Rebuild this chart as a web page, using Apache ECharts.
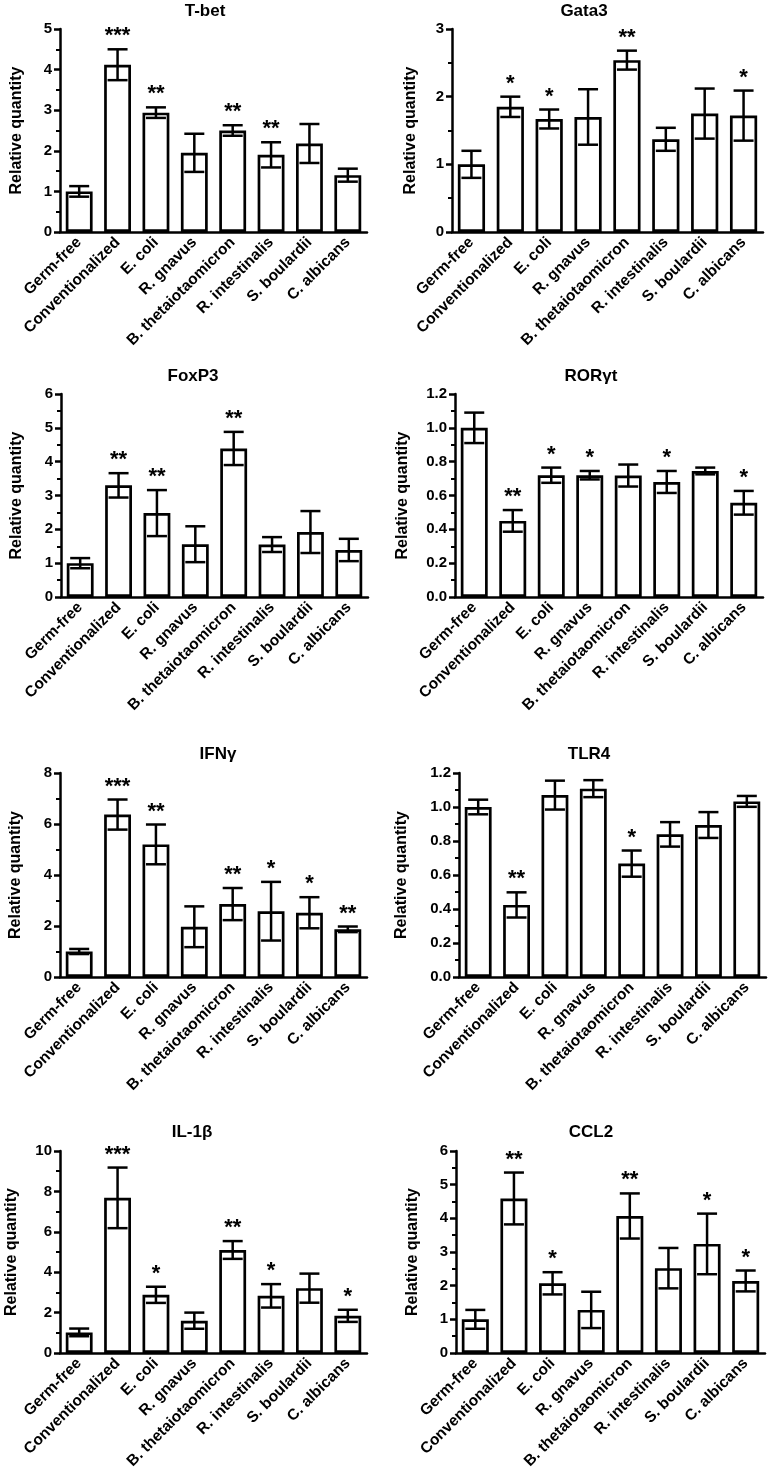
<!DOCTYPE html>
<html><head><meta charset="utf-8">
<script src="https://cdn.jsdelivr.net/npm/echarts@6/dist/echarts.min.js"></script>
<style>html,body{margin:0;padding:0;background:#fff}#c{width:768px;height:1474px}</style>
</head><body><div id="c"></div>
<script>
// ---------- DATA ----------
const categories = ['Germ-free','Conventionalized','E. coli','R. gnavus','B. thetaiotaomicron','R. intestinalis','S. boulardii','C. albicans'];

const tbetMean  = [1.00, 4.12, 2.94, 1.95, 2.50, 1.90, 2.18, 1.40];
const tbetErr   = [0.13, 0.38, 0.13, 0.47, 0.13, 0.31, 0.48, 0.16];
const tbetSig   = ['', '***', '**', '', '**', '**', '', ''];

const gata3Mean = [1.00, 1.85, 1.67, 1.70, 2.54, 1.37, 1.75, 1.72];
const gata3Err  = [0.20, 0.15, 0.14, 0.41, 0.14, 0.17, 0.37, 0.37];
const gata3Sig  = ['', '*', '*', '', '**', '', '', '*'];

const foxp3Mean = [1.00, 3.30, 2.48, 1.56, 4.39, 1.55, 1.92, 1.39];
const foxp3Err  = [0.15, 0.36, 0.68, 0.53, 0.49, 0.22, 0.62, 0.33];
const foxp3Sig  = ['', '**', '**', '', '**', '', '', ''];

const rorMean   = [1.00, 0.45, 0.72, 0.72, 0.718, 0.68, 0.745, 0.557];
const rorErr    = [0.09, 0.064, 0.045, 0.025, 0.065, 0.065, 0.02, 0.07];
const rorSig    = ['', '**', '*', '*', '', '*', '', '*'];

const ifngMean  = [1.00, 6.37, 5.20, 1.97, 2.86, 2.58, 2.52, 1.87];
const ifngErr   = [0.10, 0.59, 0.78, 0.80, 0.63, 1.15, 0.61, 0.11];
const ifngSig   = ['', '***', '**', '', '**', '*', '*', '**'];

const tlr4Mean  = [1.00, 0.424, 1.07, 1.108, 0.667, 0.839, 0.894, 1.033];
const tlr4Err   = [0.043, 0.074, 0.085, 0.05, 0.077, 0.072, 0.076, 0.032];
const tlr4Sig   = ['', '**', '', '', '*', '', '', ''];

const il1bMean  = [1.02, 7.68, 2.88, 1.60, 5.10, 2.83, 3.21, 1.84];
const il1bErr   = [0.19, 1.50, 0.40, 0.40, 0.44, 0.58, 0.72, 0.30];
const il1bSig   = ['', '***', '*', '', '**', '*', '', '*'];

const ccl2Mean  = [1.00, 4.59, 2.07, 1.28, 4.07, 2.52, 3.24, 2.14];
const ccl2Err   = [0.28, 0.77, 0.33, 0.54, 0.67, 0.60, 0.90, 0.31];
const ccl2Sig   = ['', '**', '*', '', '**', '', '*', '*'];

const titles    = ['T-bet', 'Gata3', 'FoxP3', 'RORγt', 'IFNγ', 'TLR4', 'IL-1β', 'CCL2'];
const yMax      = [5, 3, 6, 1.2, 8, 1.2, 10, 6];
const yInterval = [1, 1, 1, 0.2, 2, 0.2, 2, 1];
const yDecimals = [0, 0, 0, 1, 0, 1, 0, 0];
const yName     = 'Relative quantity';

// ---------- LAYOUT ----------
const FONT = '"Liberation Sans", Arial, sans-serif';
const means = [tbetMean, gata3Mean, foxp3Mean, rorMean, ifngMean, tlr4Mean, il1bMean, ccl2Mean];
const errs  = [tbetErr, gata3Err, foxp3Err, rorErr, ifngErr, tlr4Err, il1bErr, ccl2Err];
const sigs  = [tbetSig, gata3Sig, foxp3Sig, rorSig, ifngSig, tlr4Sig, il1bSig, ccl2Sig];

// per panel: grid left, width, top, height, title center x, title top, y-name center x
const layout = [
  {l:60,  w:307, t:29,   h:203, tx:205, ty:3,    nx:17},
  {l:452, w:311, t:29,   h:203, tx:584, ty:3,    nx:411},
  {l:61,  w:307, t:394,  h:203, tx:193, ty:368,  nx:17},
  {l:455, w:308, t:394,  h:203, tx:591, ty:368,  nx:403},
  {l:60,  w:307, t:773,  h:204, tx:218, ty:746,  nx:16},
  {l:459, w:307, t:773,  h:204, tx:589, ty:746,  nx:402},
  {l:60,  w:307, t:1151, h:202, tx:192, ty:1124, nx:12},
  {l:456, w:309, t:1151, h:202, tx:591, ty:1124, nx:413}
];

const grids = [], xAxes = [], yAxes = [], series = [], titleArr = [];

function makeRender(sig) {
  return function (params, api) {
    const i = api.value(0), m = api.value(1), e = api.value(2);
    const top = api.coord([i, m + e]);
    const bot = api.coord([i, m - e]);
    const half = 10;
    const st = {stroke: '#000', lineWidth: 2.5};
    const ch = [
      {type: 'line', shape: {x1: top[0], y1: top[1], x2: bot[0], y2: bot[1]}, style: st},
      {type: 'line', shape: {x1: top[0] - half, y1: top[1], x2: top[0] + half, y2: top[1]}, style: st},
      {type: 'line', shape: {x1: bot[0] - half, y1: bot[1], x2: bot[0] + half, y2: bot[1]}, style: st}
    ];
    const s = sig[params.dataIndex];
    if (s) {
      ch.push({type: 'text', x: top[0], y: top[1] - 2,
        style: {text: s, align: 'center', verticalAlign: 'bottom', textAlign: 'center', textVerticalAlign: 'bottom',
                fontSize: 22, fontWeight: 'bold', fontFamily: FONT, fill: '#000'}});
    }
    return {type: 'group', children: ch};
  };
}

layout.forEach((p, k) => {
  grids.push({left: p.l, top: p.t, width: p.w, height: p.h, containLabel: false});
  titleArr.push({text: titles[k], left: p.tx, top: p.ty, textAlign: 'center', padding: 0,
    textStyle: {fontSize: 17, fontWeight: 'bold', fontFamily: FONT, color: '#000'}});
  xAxes.push({
    type: 'category', gridIndex: k, data: categories,
    axisLine: {lineStyle: {color: '#000', width: 2.5}},
    axisTick: {alignWithLabel: true, length: 5, lineStyle: {color: '#000', width: 2.5}},
    axisLabel: {rotate: 45, interval: 0, margin: 8, fontSize: 15.5, fontWeight: 'bold', fontFamily: FONT, color: '#000'},
    splitLine: {show: false}
  });
  const dec = yDecimals[k];
  yAxes.push({
    type: 'value', gridIndex: k, min: 0, max: yMax[k], interval: yInterval[k],
    name: yName, nameLocation: 'middle', nameGap: p.l - p.nx - 8,
    nameTextStyle: {fontSize: 16, fontWeight: 'bold', fontFamily: FONT, color: '#000'},
    axisLine: {show: true, lineStyle: {color: '#000', width: 2.5}},
    axisTick: {show: true, length: 6, lineStyle: {color: '#000', width: 2.5}},
    minorTick: {show: true, splitNumber: 2, length: 4, lineStyle: {color: '#000', width: 2}},
    splitLine: {show: false}, minorSplitLine: {show: false},
    axisLabel: {fontSize: 15, fontWeight: 'bold', fontFamily: FONT, color: '#000', margin: 8,
      formatter: v => v.toFixed(dec)}
  });
  series.push({
    type: 'bar', xAxisIndex: k, yAxisIndex: k, data: means[k], barWidth: '70%',
    itemStyle: {color: '#fff', borderColor: '#000', borderWidth: 2.7}, silent: true, animation: false
  });
  series.push({
    type: 'custom', xAxisIndex: k, yAxisIndex: k, z: 5, animation: false, silent: true,
    data: means[k].map((m, i) => [i, m, errs[k][i]]),
    renderItem: makeRender(sigs[k])
  });
});

const chart = echarts.init(document.getElementById('c'), null, {renderer: 'canvas'});
chart.setOption({
  backgroundColor: '#fff', animation: false,
  title: titleArr, grid: grids, xAxis: xAxes, yAxis: yAxes, series: series
});
</script></body></html>
